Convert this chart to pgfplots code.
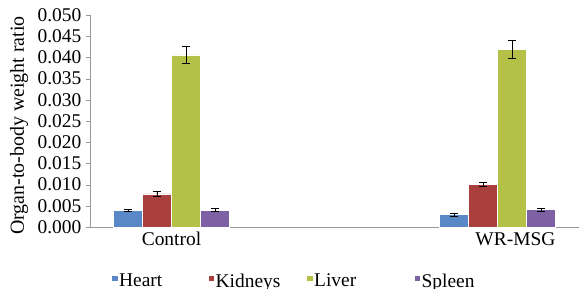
\documentclass[border=0pt]{standalone}
\usepackage{pgfplots}
\pgfplotsset{compat=1.18}
\usepackage{fontspec}
\setmainfont{Liberation Serif}
\definecolor{cHeart}{HTML}{5A87C6}
\definecolor{cKid}{HTML}{AA403D}
\definecolor{cLiv}{HTML}{B4C146}
\definecolor{cSpl}{HTML}{7E60A4}
\begin{document}
\begin{tikzpicture}
\fontsize{19.5}{22}\selectfont
\begin{axis}[
  scale only axis,
  width=489bp, height=212bp,
  ybar=0pt, bar width=29bp,
  xmin=-0.5, xmax=2.5,
  ymin=0, ymax=0.05,
  ytick={0,0.005,...,0.0501},
  scaled y ticks=false,
  /pgf/number format/.cd, fixed, fixed zerofill, precision=3, assume math mode=true,
  /pgfplots/.cd,
  yticklabel style={font=\fontsize{19.5}{22}\selectfont, xshift=2bp},
  xtick={0,2.11},
  xticklabels={Control, WR-MSG},
  xticklabel style={font=\fontsize{19.5}{22}\selectfont, yshift=5.5bp},
  major x tick style={draw=none},
  extra x ticks={0.5,1.5},
  extra x tick labels={},
  extra x tick style={major tick length=4bp, tick style={gray!80}},
  axis x line*=bottom, axis y line*=left,
  axis line style={gray!80, -},
  tick align=outside, major tick length=4bp,
  tick style={gray!80},
  ylabel={Organ-to-body weight ratio},
  ylabel style={at={(axis description cs:-0.1452,0.4788)}, anchor=center, font=\fontsize{20}{22}\selectfont},
  every axis plot/.append style={draw=white, line width=0.6bp,
     error bars/y dir=both, error bars/y explicit, error bars/error bar style={black, line width=0.7bp},
     error bars/error mark options={rotate=90, mark size=4bp, black, line width=0.7bp}},
  legend columns=4,
  legend style={draw=none, fill=none, inner sep=0pt, at={(axis description cs:0,0)}, anchor=west, xshift=22bp, yshift=-55bp,
     font=\fontsize{19.5}{22}\selectfont, nodes={inner sep=1.5bp}, /tikz/every even column/.append style={column sep=0pt}},
  legend image code/.code={\fill[#1, draw=none] (0bp,1bp) rectangle (5.5bp,6.5bp);},
]
\addplot[fill=cHeart] coordinates {(0,0.0039) +- (0,0.0003) (2,0.0029) +- (0,0.0003)};
\addplot[fill=cKid] coordinates {(0,0.0078) +- (0,0.0005) (2,0.0101) +- (0,0.0005)};
\addplot[fill=cLiv] coordinates {(0,0.0406) +- (0,0.0021) (2,0.0419) +- (0,0.0022)};
\addplot[fill=cSpl] coordinates {(0,0.0040) +- (0,0.0003) (2,0.0041) +- (0,0.0003)};
\legend{\makebox[88bp][l]{Heart}, \makebox[90bp][l]{Kidneys}, \makebox[99bp][l]{Liver}, Spleen}
\end{axis}
\pgfresetboundingbox
\path[use as bounding box] (-90bp,-62bp) rectangle (489bp,227bp);
\end{tikzpicture}
\end{document}
